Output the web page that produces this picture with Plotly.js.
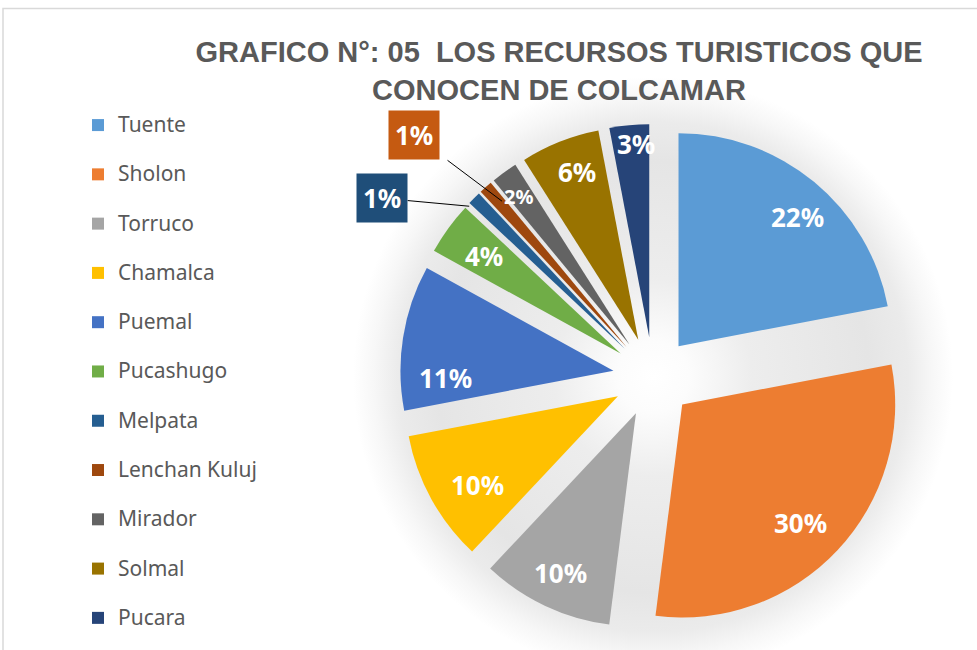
<!DOCTYPE html>
<html>
<head>
<meta charset="utf-8">
<script src="https://cdn.plot.ly/plotly-3.0.1.min.js"></script>
<style>html,body{margin:0;padding:0;background:#fff}#chart{width:977px;height:650px}</style>
</head>
<body>
<div id="chart"></div>
<script>
// ---- data ----
const labels = ['Tuente','Sholon','Torruco','Chamalca','Puemal','Pucashugo','Melpata','Lenchan Kuluj','Mirador','Solmal','Pucara'];
const values = [22, 30, 10, 10, 11, 4, 1, 1, 2, 6, 3];
const colors = ['#5B9BD5','#ED7D31','#A5A5A5','#FFC000','#4472C4','#70AD47','#255E91','#9E480E','#636363','#997300','#264478'];
const titleText = 'GRAFICO N°: 05\u00a0 LOS RECURSOS TURISTICOS QUE<br>CONOCEN DE COLCAMAR';

// ---- layout constants (pixels) ----
const W = 977, H = 650;
const CX = 653, CY = 377, R = 213, PULL = 0.188;
const half = R * (1 + PULL);

// label placement style: radius fraction and angle tweak per slice
const labelR  = [0.825, 0.785, 0.83, 0.78, 0.79, 0.79, 0.99, 0.90, 0.866, 0.84, 0.91];
const labelDA = [3.2, 2.0, 0, -3.5, -11.5, -0.5, -2.5, 0.9, -0.8, 1.6, 1.5];
const labelSize = [26, 26, 26, 26, 26, 26, 26, 26, 20, 26, 26];
// callout boxes (slice index -> box offset in px, box colour)
const callouts = {6: {ax: -87, ay: -8, bg: '#1F4E79'}, 7: {ax: -88, ay: -66, bg: '#C55A11'}};

const total = values.reduce((a, b) => a + b, 0);
const legendLabels = labels.map(l => '<span style="font-size:21px">' + l + '</span><br>\u00a0');

const annotations = [];
let cum = 0;
values.forEach((v, i) => {
  const mid = (cum + v / 2) / total * 360;
  cum += v;
  const a = mid * Math.PI / 180;
  const pcx = CX + PULL * R * Math.sin(a);
  const pcy = CY - PULL * R * Math.cos(a);
  const b = (mid + labelDA[i]) * Math.PI / 180;
  const px = pcx + labelR[i] * R * Math.sin(b);
  const py = pcy - labelR[i] * R * Math.cos(b);
  const txt = Math.round(v / total * 100) + '%';
  if (callouts[i]) {
    const c = callouts[i];
    annotations.push({
      xref: 'paper', yref: 'paper', x: px / W, y: 1 - py / H,
      text: txt, showarrow: true, arrowhead: 0, arrowwidth: 1, arrowcolor: '#000',
      ax: c.ax, ay: c.ay, bgcolor: c.bg, borderpad: 6, startstandoff: i === 7 ? 10 : 0,
      font: {family: 'Noto Sans', size: 26, color: '#fff', weight: 'bold'}
    });
  } else {
    annotations.push({
      xref: 'paper', yref: 'paper', x: px / W, y: 1 - py / H,
      xanchor: 'center', yanchor: 'middle', showarrow: false, text: '<b>' + txt + '</b>',
      font: {family: 'Noto Sans', size: labelSize[i], color: '#fff'}
    });
  }
});

// soft halo behind the pie
const cv = document.createElement('canvas');
cv.width = W; cv.height = H;
const ctx = cv.getContext('2d');
const g = ctx.createRadialGradient(CX, CY, 0, CX, CY, 300);
g.addColorStop(0.0, '#ffffff');
g.addColorStop(0.12, '#fcfcfc');
g.addColorStop(0.33, '#ededed');
g.addColorStop(0.72, '#e5e5e5');
g.addColorStop(0.85, '#ebebeb');
g.addColorStop(0.93, '#f7f7f7');
g.addColorStop(1.0, '#ffffff');
ctx.fillStyle = '#ffffff';
ctx.fillRect(0, 0, W, H);
ctx.fillStyle = g;
ctx.beginPath(); ctx.arc(CX, CY, 300, 0, 2 * Math.PI); ctx.fill();
const halo = cv.toDataURL('image/png');

const trace = {
  type: 'pie',
  labels: legendLabels,
  values: values,
  sort: false,
  direction: 'clockwise',
  rotation: 0,
  pull: PULL,
  marker: {colors: colors, line: {width: 0}},
  textinfo: 'none',
  hoverinfo: 'skip',
  domain: {x: [(CX - half) / W, (CX + half) / W], y: [1 - (CY + half) / H, 1 - (CY - half) / H]}
};

const layout = {
  width: W, height: H,
  margin: {l: 0, r: 0, t: 0, b: 0, autoexpand: false},
  paper_bgcolor: '#ffffff',
  title: {
    text: titleText, x: 559 / W, xanchor: 'center', xref: 'container',
    y: 1 - 62 / H, yanchor: 'top', yref: 'container',
    font: {family: 'Liberation Sans, Arial, sans-serif', size: 29, color: '#595959', weight: 'bold'}
  },
  showlegend: true,
  legend: {
    x: 78 / W, xanchor: 'left', y: 1 - 107 / H, yanchor: 'top',
    valign: 'top', bgcolor: 'rgba(0,0,0,0)',
    font: {family: 'Noto Sans', size: 17.8, color: '#595959'}
  },
  images: [{source: halo, xref: 'paper', yref: 'paper', x: 0, y: 1, sizex: 1, sizey: 1,
            xanchor: 'left', yanchor: 'top', sizing: 'stretch', layer: 'below'}],
  shapes: [{type: 'rect', xref: 'paper', yref: 'paper', x0: 3 / W, x1: 1.05, y0: -0.05, y1: 1 - 8.5 / H,
            line: {color: '#d9d9d9', width: 1.5}, fillcolor: 'rgba(0,0,0,0)', layer: 'above'}],
  annotations: annotations
};

Plotly.newPlot('chart', [trace], layout, {displayModeBar: false, staticPlot: true});
</script>
</body>
</html>
